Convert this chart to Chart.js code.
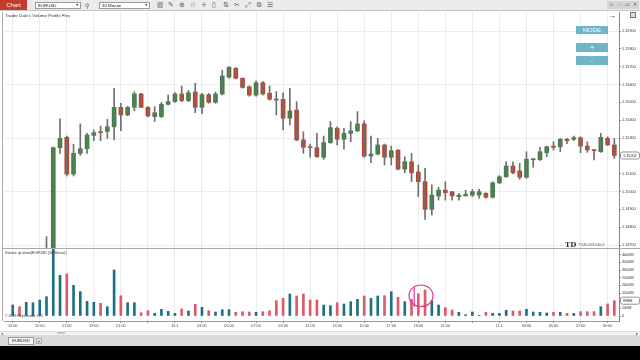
<!DOCTYPE html>
<html>
<head>
<meta charset="utf-8">
<script src="https://cdn.jsdelivr.net/npm/chart.js@4.4.1/dist/chart.umd.min.js"></script>
<style>
  html, body { margin: 0; padding: 0; }
  body { width: 640px; height: 360px; background: #000; position: relative; overflow: hidden; font-family: "Liberation Sans", Arial, sans-serif; }
  .abs { position: absolute; }
  #toolbar { left: 0; top: 0; width: 640px; height: 11px; background: #ebebeb; border-bottom: 1px solid #c6c6c6; box-sizing: border-box; }
  #chartTab { left: 0; top: 0; width: 27px; height: 10px; background: #c33b2b; color: #fff; font-size: 6px; line-height: 10px; text-align: center; }
  .dd { top: 2px; height: 7px; background: #fff; border: 1px solid #9a9a9a; box-sizing: border-box; font-size: 4.4px; line-height: 5px; padding-left: 2px; color: #222; }
  .dd span { position: absolute; right: 1px; top: 0; font-size: 3.5px; }
  .ico { top: 1px; font-family: "DejaVu Sans", sans-serif; font-size: 7px; color: #5a5a5a; line-height: 9px; }
  #frame { left: 0; top: 11px; width: 640px; height: 324px; background: #fff; }
  .txt { font-size: 3.8px; color: #333; white-space: nowrap; }
  .btn { left: 576px; width: 32px; background: #6db5c7; color: #fff; text-align: center; font-size: 6px; }
  .sep { background: #a9a9a9; }
</style>
</head>
<body>
<div id="frame" class="abs"></div>
<div class="abs sep" style="left:2px;top:12px;width:1px;height:309px;"></div>

<canvas id="priceChart" class="abs" width="640" height="244" style="left:0;top:8px;"></canvas>
<canvas id="volChart" class="abs" width="640" height="89" style="left:0;top:244px;"></canvas>

<div class="abs sep" style="left:2px;top:248px;width:638px;height:1px;"></div>

<div id="toolbar" class="abs">
  <div id="chartTab" class="abs">Chart</div>
  <div class="abs dd" style="left:35px;width:46px;">EURUSD<span>▼</span></div>
  <div class="abs ico" style="left:85px;font-size:6px;">⚲</div>
  <div class="abs dd" style="left:99px;width:51px;">30 Minute<span>▼</span></div>
  <div class="abs ico" style="left:157px;">▥</div>
  <div class="abs ico" style="left:168px;">✎</div>
  <div class="abs ico" style="left:179px;">⊕</div>
  <div class="abs ico" style="left:190px;color:#aaa;">⊖</div>
  <div class="abs ico" style="left:201px;">+</div>
  <div class="abs ico" style="left:212px;">▯</div>
  <div class="abs ico" style="left:223px;">⇅</div>
  <div class="abs ico" style="left:234px;">✂</div>
  <div class="abs ico" style="left:245px;">⤢</div>
  <div class="abs ico" style="left:256px;">⚙</div>
  <div class="abs ico" style="left:267px;">☰</div>
  <div class="abs" style="left:607px;top:1px;width:32px;height:8px;background:#d4d4d4;"></div>
  <div class="abs ico" style="left:610px;top:0;font-size:5px;">▫</div>
  <div class="abs ico" style="left:619px;top:0;font-size:5px;">–</div>
  <div class="abs ico" style="left:625px;top:0;font-size:5px;">▭</div>
  <div class="abs ico" style="left:633px;top:0;font-size:5px;">✕</div>
</div>

<div class="abs txt" style="left:5px;top:13px;font-size:4.4px;">Trader Dale's Volume Profile Flex</div>
<div class="abs" style="left:608px;top:11px;font-size:8px;font-weight:bold;color:#111;">→</div>
<div class="abs" style="left:630px;top:12px;width:4px;height:4px;border:1px solid #777;background:#ddd;"></div>
<div class="abs btn" style="top:26px;height:8px;line-height:8px;">MODE</div>
<div class="abs btn" style="top:43px;height:9px;line-height:9px;font-size:7px;">+</div>
<div class="abs btn" style="top:56px;height:9px;line-height:9px;font-size:7px;">-</div>

<div class="abs" style="left:565px;top:240px;font-size:7px;font-weight:bold;color:#333;font-family:'DejaVu Serif',serif;">TD</div>
<div class="abs txt" style="left:578px;top:242px;color:#777;font-size:4px;">TRADERDALE</div>

<div class="abs txt" style="left:5px;top:251px;font-size:3.5px;">Volume up down(EURUSD (30 Minute))</div>
<div class="abs txt" style="left:5px;top:314px;font-size:3.5px;">© 2018 NinjaTrader, LLC</div>

<div class="abs" style="left:0;top:331px;width:640px;height:4px;background:#f2f2f2;border-top:1px solid #ddd;box-sizing:border-box;"></div>
<div class="abs" style="left:57px;top:332px;width:8px;height:2px;background:#c8c8c8;"></div>
<div class="abs ico" style="left:1px;top:329px;font-size:4px;">◂</div>
<div class="abs ico" style="left:636px;top:329px;font-size:4px;">▸</div>
<div class="abs" style="left:0;top:335px;width:640px;height:11px;background:#dadada;"></div>
<div class="abs" style="left:8px;top:337px;width:26px;height:8px;background:#f6f6f6;border:1px solid #9a9a9a;box-sizing:border-box;font-size:4.2px;line-height:6px;text-align:center;color:#222;">EURUSD</div>
<div class="abs" style="left:36px;top:338px;width:6px;height:6px;background:#eee;border:1px solid #aaa;box-sizing:border-box;font-size:5px;line-height:4px;text-align:center;color:#333;">+</div>

<script>
// Données des bougies (30 minutes)
const opens = [1.14400, 1.14430, 1.14410, 1.14460, 1.14490, 1.14530, 1.14560, 1.15246, 1.15304, 1.15098,
  1.15214, 1.15240, 1.15315, 1.15335, 1.15337, 1.15363, 1.15472, 1.15429, 1.15472, 1.15547,
  1.15472, 1.15420, 1.15420, 1.15489, 1.15504, 1.15547, 1.15510, 1.15558, 1.15472, 1.15543,
  1.15500, 1.15547, 1.15641, 1.15691, 1.15635, 1.15588, 1.15541, 1.15610, 1.15551, 1.15517,
  1.15517, 1.15411, 1.15457, 1.15289, 1.15250, 1.15246, 1.15192, 1.15274, 1.15355, 1.15293,
  1.15326, 1.15340, 1.15379, 1.15199, 1.15210, 1.15261, 1.15192, 1.15232, 1.15125, 1.15167,
  1.15110, 1.15055, 1.14900, 1.14975, 1.15008, 1.14999, 1.14971, 1.14976, 1.14980, 1.14980,
  1.14990, 1.14968, 1.15049, 1.15083, 1.15143, 1.15116, 1.15080, 1.15178, 1.15178, 1.15218,
  1.15255, 1.15251, 1.15293, 1.15293, 1.15302, 1.15255, 1.15233, 1.15223, 1.15298, 1.15261];
const highs = [1.14440, 1.14450, 1.14470, 1.14500, 1.14540, 1.14747, 1.15250, 1.15407, 1.15311, 1.15265,
  1.15379, 1.15326, 1.15345, 1.15367, 1.15405, 1.15579, 1.15495, 1.15478, 1.15560, 1.15550,
  1.15476, 1.15476, 1.15500, 1.15541, 1.15555, 1.15592, 1.15568, 1.15607, 1.15550, 1.15550,
  1.15558, 1.15681, 1.15700, 1.15695, 1.15638, 1.15592, 1.15621, 1.15617, 1.15592, 1.15560,
  1.15554, 1.15579, 1.15504, 1.15335, 1.15266, 1.15326, 1.15311, 1.15392, 1.15362, 1.15355,
  1.15392, 1.15448, 1.15397, 1.15311, 1.15298, 1.15266, 1.15255, 1.15235, 1.15195, 1.15214,
  1.15149, 1.15130, 1.15037, 1.15024, 1.15055, 1.15000, 1.14989, 1.15007, 1.15012, 1.15012,
  1.14993, 1.15055, 1.15089, 1.15167, 1.15167, 1.15158, 1.15223, 1.15186, 1.15248, 1.15255,
  1.15279, 1.15298, 1.15298, 1.15311, 1.15307, 1.15279, 1.15237, 1.15326, 1.15307, 1.15298];
const lows = [1.14380, 1.14390, 1.14400, 1.14440, 1.14480, 1.14510, 1.14550, 1.15214, 1.15087, 1.15087,
  1.15203, 1.15214, 1.15285, 1.15285, 1.15298, 1.15289, 1.15341, 1.15425, 1.15453, 1.15470,
  1.15418, 1.15392, 1.15415, 1.15485, 1.15500, 1.15504, 1.15504, 1.15442, 1.15436, 1.15495,
  1.15495, 1.15541, 1.15635, 1.15632, 1.15580, 1.15535, 1.15535, 1.15541, 1.15513, 1.15429,
  1.15345, 1.15373, 1.15285, 1.15214, 1.15192, 1.15191, 1.15180, 1.15270, 1.15261, 1.15237,
  1.15279, 1.15335, 1.15192, 1.15162, 1.15205, 1.15149, 1.15149, 1.15121, 1.15105, 1.15055,
  1.14971, 1.14844, 1.14868, 1.14952, 1.14952, 1.14952, 1.14952, 1.14974, 1.14971, 1.14963,
  1.14963, 1.14963, 1.15044, 1.15079, 1.15098, 1.15068, 1.15074, 1.15136, 1.15174, 1.15195,
  1.15233, 1.15223, 1.15268, 1.15285, 1.15218, 1.15220, 1.15177, 1.15220, 1.15258, 1.15186];
const closes = [1.14430, 1.14410, 1.14460, 1.14490, 1.14530, 1.14560, 1.15246, 1.15298, 1.15098, 1.15214,
  1.15240, 1.15317, 1.15330, 1.15330, 1.15363, 1.15472, 1.15429, 1.15472, 1.15547, 1.15472,
  1.15424, 1.15442, 1.15489, 1.15504, 1.15547, 1.15510, 1.15554, 1.15472, 1.15543, 1.15500,
  1.15547, 1.15648, 1.15697, 1.15635, 1.15584, 1.15541, 1.15610, 1.15547, 1.15517, 1.15513,
  1.15411, 1.15452, 1.15289, 1.15248, 1.15246, 1.15195, 1.15274, 1.15358, 1.15293, 1.15326,
  1.15340, 1.15379, 1.15199, 1.15210, 1.15261, 1.15192, 1.15229, 1.15125, 1.15167, 1.15105,
  1.15055, 1.14900, 1.14980, 1.15008, 1.14993, 1.14975, 1.14980, 1.14984, 1.14999, 1.14999,
  1.14968, 1.15049, 1.15083, 1.15143, 1.15105, 1.15080, 1.15181, 1.15181, 1.15223, 1.15251,
  1.15248, 1.15293, 1.15285, 1.15302, 1.15255, 1.15233, 1.15229, 1.15304, 1.15261, 1.15202];
// Volume em milhões
const volumes = [717, 606, 893, 867, 1043, 1258, 4400, 2653, 2738, 2000,
  1587, 957, 893, 826, 606, 2999, 1325, 867, 867, 217,
  346, 174, 437, 306, 174, 456, 326, 763, 567, 346,
  261, 411, 411, 241, 280, 261, 241, 280, 346, 998,
  1154, 1434, 1304, 1434, 1043, 1043, 717, 674, 867, 782,
  935, 1087, 1304, 1152, 1304, 1326, 1587, 1217, 935, 1087,
  1450, 1700, 1000, 717, 543, 391, 241, 87, 261, 43,
  241, 174, 174, 370, 326, 326, 435, 261, 241, 196,
  241, 241, 174, 174, 283, 283, 283, 606, 782, 998];

// Rótulos do eixo do tempo (um a cada 4 barras = 2 horas)
const xTickIdx = [0, 4, 8, 12, 16, 20, 24, 28, 32, 36, 40, 44, 48, 52, 56, 60, 64, 68, 72, 76, 80, 84, 88];
const xTickText = ['13:00', '15:00', '17:00', '19:00', '21:00', '', '10.1', '03:00', '05:00', '07:00', '09:00', '11:00',
  '13:00', '15:00', '17:00', '19:00', '21:00', '', '11.1', '03:00', '05:00', '07:00', '09:00'];
const priceTicks = [1.147, 1.148, 1.149, 1.150, 1.151, 1.152, 1.153, 1.154, 1.155, 1.156, 1.157, 1.158, 1.159];
const volumeTicks = [0, 500, 1000, 1500, 2000, 2500, 3000, 3500, 4000];

const barIdx = closes.map((c, i) => i);
const isUp = closes.map((c, i) => c >= opens[i]);

const colUp = '#37863f';
const colDown = '#c5402c';
const volUp = '#1d7085';
const volDown = '#e0596a';
const gridCol = '#ececec';

Chart.defaults.font.family = '"Liberation Sans", Arial, sans-serif';
Chart.defaults.font.size = 3.8;
Chart.defaults.color = '#333';

const xMin = -1.287;
const xMax = 89.689;

function xScale(showLabels) {
    return {
        type: 'linear',
        min: xMin,
        max: xMax,
        offset: false,
        grid: { color: gridCol, offset: false, drawTicks: showLabels, tickLength: 2, tickColor: '#888' },
        border: { display: showLabels, color: '#999' },
        ticks: {
            display: showLabels,
            autoSkip: false,
            maxRotation: 0,
            padding: 1,
            color: '#444',
            callback: function(value, index) { return xTickText[index]; }
        },
        afterBuildTicks: function(scale) {
            scale.ticks = xTickIdx.map(v => ({ value: v }));
        },
        afterFit: function(scale) {
            scale.height = showLabels ? 12 : 0;
        }
    };
}

// Caixa com o último valor no eixo
function lastValueBox(id, value, text) {
    return {
        id: id,
        afterDraw: function(chart) {
            const ctx = chart.ctx;
            const y = chart.scales.y.getPixelForValue(value);
            const left = chart.chartArea.right + 1;
            ctx.save();
            ctx.fillStyle = '#fff';
            ctx.strokeStyle = '#777';
            ctx.lineWidth = 0.8;
            ctx.beginPath();
            ctx.roundRect(left + 0.5, y - 3.5, 19, 7, 2);
            ctx.fill();
            ctx.stroke();
            ctx.fillStyle = '#222';
            ctx.font = '3.8px "Liberation Sans", Arial, sans-serif';
            ctx.textBaseline = 'middle';
            ctx.fillText(text, left + 3, y);
            ctx.restore();
        }
    };
}

const priceChart = new Chart(document.getElementById('priceChart'), {
    type: 'bar',
    data: {
        datasets: [
            {
                label: 'wick',
                data: barIdx.map(i => ({ x: i, y: [lows[i], highs[i]] })),
                backgroundColor: '#6f6f6f',
                barThickness: 1,
                grouped: false
            },
            {
                label: 'body',
                data: barIdx.map(i => ({ x: i, y: [opens[i], closes[i]] })),
                backgroundColor: isUp.map(u => u ? colUp : colDown),
                barThickness: 4,
                minBarLength: 1,
                grouped: false
            }
        ]
    },
    options: {
        responsive: false,
        animation: false,
        layout: { padding: { left: 4, right: 0, top: 4, bottom: 4 } },
        plugins: { legend: { display: false }, tooltip: { enabled: false } },
        scales: {
            x: xScale(false),
            y: {
                position: 'right',
                min: 1.146832,
                max: 1.160068,
                beginAtZero: false,
                grid: {
                    color: ctx => (ctx.index % 3 === 0 ? gridCol : 'rgba(0,0,0,0)'),
                    tickLength: 2,
                    tickColor: '#888'
                },
                border: { color: '#888' },
                ticks: {
                    padding: 1,
                    color: '#333',
                    callback: function(value) { return value.toFixed(5); }
                },
                afterBuildTicks: function(scale) {
                    scale.ticks = priceTicks.map(v => ({ value: v }));
                },
                afterFit: function(scale) { scale.width = 21; }
            }
        }
    },
    plugins: [lastValueBox('priceBox', closes[closes.length - 1], closes[closes.length - 1].toFixed(5))]
});

// Círculo desenhado à mão sobre o volume
const circleNote = {
    id: 'circleNote',
    afterDatasetsDraw: function(chart) {
        const ctx = chart.ctx;
        const sx = chart.scales.x;
        const sy = chart.scales.y;
        const cx = sx.getPixelForValue(60.4);
        const cy = sy.getPixelForValue(1317);
        ctx.save();
        ctx.strokeStyle = '#e8378c';
        ctx.lineWidth = 1.2;
        ctx.beginPath();
        ctx.ellipse(cx, cy, 12, 10.8, 0, 0, Math.PI * 2);
        ctx.stroke();
        const lx = sx.getPixelForValue(59.4);
        ctx.beginPath();
        ctx.moveTo(lx, cy - 8);
        ctx.lineTo(lx, sy.getPixelForValue(600));
        ctx.stroke();
        ctx.restore();
    }
};

const lastVol = volumes[volumes.length - 1];
const volChart = new Chart(document.getElementById('volChart'), {
    type: 'bar',
    data: {
        datasets: [{
            label: 'volume',
            data: barIdx.map(i => ({ x: i, y: volumes[i] })),
            backgroundColor: isUp.map(u => u ? volUp : volDown),
            barThickness: 2,
            grouped: false
        }]
    },
    options: {
        responsive: false,
        animation: false,
        layout: { padding: { left: 4, right: 0, top: 4, bottom: 0 } },
        plugins: { legend: { display: false }, tooltip: { enabled: false } },
        scales: {
            x: xScale(true),
            y: {
                position: 'right',
                min: -326,
                max: 4435,
                beginAtZero: false,
                grid: { drawOnChartArea: false, tickLength: 2, tickColor: '#888' },
                border: { color: '#888' },
                ticks: {
                    padding: 1,
                    color: '#333',
                    callback: function(value) { return value === 0 ? '0' : value + 'M'; }
                },
                afterBuildTicks: function(scale) {
                    scale.ticks = volumeTicks.map(v => ({ value: v }));
                },
                afterFit: function(scale) { scale.width = 21; }
            }
        }
    },
    plugins: [circleNote, lastValueBox('volBox', lastVol, Math.round(lastVol) + 'M')]
});
</script>
</body>
</html>
